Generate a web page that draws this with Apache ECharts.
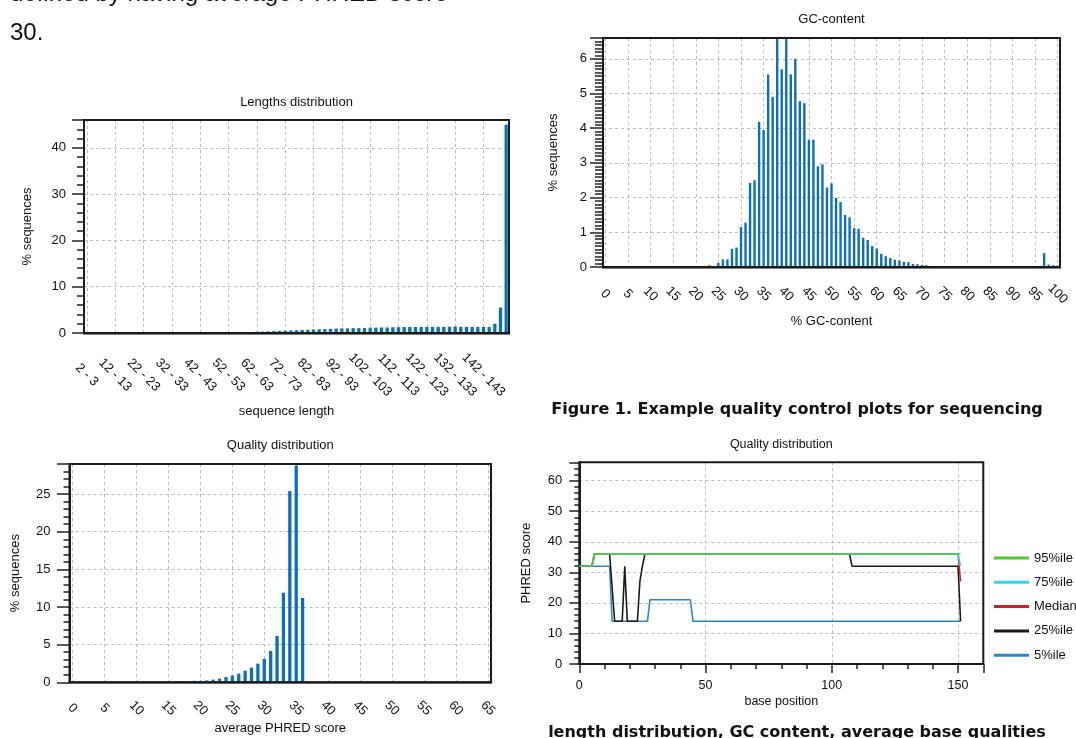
<!DOCTYPE html>
<html>
<head>
<meta charset="utf-8">
<title>Quality control plots</title>
<script src="https://cdn.jsdelivr.net/npm/echarts@6/dist/echarts.min.js"></script>
<style>
  html, body { margin: 0; padding: 0; background: #fff; }
  #main { width: 1076px; height: 738px; }
</style>
</head>
<body>
<div id="main"></div>
<script>
// ---- data ----

// Lengths distribution: bins of two, 2 - 3 ... 150 - 151
var lengthBinStarts = [];
for (var b = 2; b <= 150; b += 2) lengthBinStarts.push(b);
var lengthCategories = lengthBinStarts.map(function (s) { return s + ' - ' + (s + 1); });
var lengthValues = [
  0, 0, 0, 0, 0, 0, 0, 0, 0, 0,
  0, 0, 0, 0, 0, 0, 0, 0, 0, 0,
  0, 0, 0, 0, 0, 0, 0, 0,
  0.2, 0.2, 0.28, 0.3, 0.35, 0.4, 0.45, 0.5, 0.55, 0.6,
  0.65, 0.7, 0.75, 0.8, 0.85, 0.9, 0.95, 1.0, 1.0, 1.05,
  1.05, 1.1, 1.15, 1.15, 1.2, 1.2, 1.25, 1.25, 1.3, 1.3,
  1.3, 1.32, 1.32, 1.33, 1.33, 1.33, 1.35, 1.4, 1.33, 1.33,
  1.33, 1.33, 1.3, 1.3,
  2.0, 5.5, 45
];

// GC-content: one bar per percent, 0 ... 100
var gcCategories = [];
for (var g = 0; g <= 100; g++) gcCategories.push(String(g));
var gcValues = [
  0, 0, 0, 0, 0, 0, 0, 0, 0, 0, 0,
  0, 0, 0, 0, 0, 0, 0, 0, 0, 0,
  0.03, 0.03, 0.05, 0.03, 0.12, 0.22, 0.22, 0.52, 0.56, 1.15,
  1.28, 2.42, 2.5, 4.18, 3.95, 5.55, 4.9, 6.6, 5.7, 6.6,
  5.55, 6.0, 4.78, 4.72, 3.67, 3.67, 2.9, 2.96, 2.29, 2.41,
  1.99, 1.87, 1.5, 1.43, 1.12, 1.1, 0.84, 0.78, 0.6, 0.53,
  0.38, 0.31, 0.26, 0.21, 0.19, 0.15, 0.14, 0.09, 0.08, 0.06,
  0.05, 0.03, 0.02, 0.01, 0.02, 0, 0, 0, 0, 0,
  0, 0, 0, 0, 0, 0, 0, 0, 0, 0,
  0, 0, 0.02, 0, 0.02, 0.03, 0.4, 0.07, 0.05, 0.04
];

// Quality distribution: average PHRED score 0 ... 65
var phredCategories = [];
for (var q = 0; q <= 65; q++) phredCategories.push(String(q));
var phredValues = [
  0, 0, 0, 0, 0, 0, 0, 0, 0, 0, 0, 0, 0, 0, 0, 0,
  0.15, 0.15, 0.15, 0.2, 0.2, 0.25, 0.35, 0.5, 0.7, 0.9,
  1.15, 1.55, 1.95, 2.48, 3.1, 4.17, 6.16, 11.9, 25.4, 28.8, 11.2,
  0, 0, 0, 0, 0, 0, 0, 0, 0, 0,
  0, 0, 0, 0, 0, 0, 0, 0, 0, 0,
  0, 0, 0, 0, 0, 0, 0, 0, 0
];

// Per-base quality: [base position, PHRED score] break points
var p95 = [[0, 32], [5, 32], [6, 36], [151, 36]];
var p75 = [[0, 32], [5, 32], [6, 36], [150, 36], [151, 32]];
var pMedian = [[0, 32], [5, 32], [6, 36], [150, 36], [151, 27]];
var p25 = [[0, 32], [5, 32], [6, 36], [12, 36], [14, 14], [17, 14], [18, 32], [19, 14],
           [23, 14], [24, 27], [25, 32], [26, 36], [107, 36], [108, 32], [150, 32], [151, 14]];
var p5 = [[0, 32], [12, 32], [13, 14], [27, 14], [28, 21], [44, 21], [45, 14], [151, 14]];

var legendNames = ['95%ile', '75%ile', 'Median', '25%ile', '5%ile'];

// ---- styling helpers ----
var FONT = '"Liberation Sans", Arial, sans-serif';
var CAPTION = 'bold 16px "DejaVu Sans", sans-serif';
var INK = '#111';
var BAR = '#0e6eb8';
var gridDash = { color: '#bdbdbd', type: [3, 3], width: 1 };

function frame(left, top, width, height) {
  // border drawn above the dashed grid lines
  return {
    left: left, top: top, width: width, height: height, z: 3,
    show: true, borderColor: '#1a1a1a', borderWidth: 2,
    outerBoundsMode: 'none', containLabel: false
  };
}

function catAxis(idx, data, name, margin, nameGap, namePad) {
  return {
    type: 'category', gridIndex: idx, data: data, boundaryGap: true,
    axisLine: { lineStyle: { color: '#555', width: 2.5 } },
    axisTick: { show: false },
    axisLabel: {
      interval: 4, rotate: -45, align: 'center', verticalAlign: 'middle',
      margin: margin, fontSize: 13, color: INK, fontFamily: FONT, hideOverlap: false
    },
    splitLine: { show: true, interval: 4, alignWithLabel: true, lineStyle: gridDash },
    name: name, nameLocation: 'middle', nameGap: nameGap,
    nameTextStyle: { fontSize: 13, color: INK, fontFamily: FONT, padding: namePad || 0 }
  };
}

function valAxis(idx, max, interval, minorSplit, tickLen, minorLen, margin, name, nameGap) {
  return {
    type: 'value', gridIndex: idx, min: 0, max: max, interval: interval,
    axisLine: { show: true, lineStyle: { color: '#222', width: 2 } },
    axisTick: { show: true, length: tickLen, lineStyle: { color: '#222', width: 1.5 } },
    minorTick: { show: true, splitNumber: minorSplit, length: minorLen, lineStyle: { color: '#222', width: 1.5 } },
    axisLabel: { margin: margin, fontSize: 13, color: INK, fontFamily: FONT, showMaxLabel: false },
    splitLine: { show: true, showMaxLine: false, lineStyle: gridDash },
    minorSplitLine: { show: false },
    name: name, nameLocation: 'middle', nameGap: nameGap,
    nameTextStyle: { fontSize: 13, color: INK, fontFamily: FONT }
  };
}

function label(x, y, text, font, align) {
  return {
    type: 'text', x: x, y: y, silent: true,
    style: { text: text, font: font, fill: INK, align: align || 'center', verticalAlign: 'middle' }
  };
}

var chart = echarts.init(document.getElementById('main'), null, { renderer: 'canvas' });

var lineColors = { '95%ile': '#5cc43c', '75%ile': '#35d3ef', 'Median': '#c4252b', '25%ile': '#1a1a1a', '5%ile': '#3284c6' };

function qLine(name, data) {
  return {
    name: name, type: 'line', xAxisIndex: 3, yAxisIndex: 3, data: data,
    showSymbol: false, symbol: 'none', smooth: false,
    lineStyle: { width: 1.6, color: lineColors[name] },
    itemStyle: { color: lineColors[name] }
  };
}

var option = {
  animation: false,
  backgroundColor: '#fff',
  textStyle: { fontFamily: FONT },
  grid: [
    frame(84, 120, 425, 213),
    frame(603, 38, 457, 229),
    frame(69.5, 464, 421.5, 218.3),
    frame(579.3, 462.3, 404, 201.7)
  ],
  xAxis: [
    catAxis(0, lengthCategories, 'sequence length', 42, 72, [0, 20, 0, 0]),
    catAxis(1, gcCategories, '% GC-content', 27, 48),
    catAxis(2, phredCategories, 'average PHRED score', 26, 40),
    {
      type: 'value', gridIndex: 3, min: 0, max: 160, interval: 50,
      axisLine: { show: true, lineStyle: { color: '#222', width: 2 } },
      axisTick: { show: true, length: 9, lineStyle: { color: '#222', width: 1.5 } },
      minorTick: { show: true, splitNumber: 5, length: 5, lineStyle: { color: '#222', width: 1.5 } },
      axisLabel: { margin: 15, fontSize: 12.5, color: INK, fontFamily: FONT, showMaxLabel: false },
      splitLine: { show: true, showMinLine: false, showMaxLine: false, lineStyle: gridDash },
      name: 'base position', nameLocation: 'middle', nameGap: 31,
      nameTextStyle: { fontSize: 12.5, color: INK, fontFamily: FONT }
    }
  ],
  yAxis: [
    valAxis(0, 46, 10, 5, 12, 7, 18, '% sequences', 50),
    valAxis(1, 6.6, 1, 10, 13, 8, 16, '% sequences', 43),
    valAxis(2, 29, 5, 5, 12.5, 6, 19, '% sequences', 48),
    valAxis(3, 66, 10, 5, 10, 5, 17, 'PHRED score', 46)
  ],
  legend: {
    orient: 'vertical', left: 989, top: 545,
    icon: 'rect', itemWidth: 35, itemHeight: 3, itemGap: 8.3,
    selectedMode: false,
    data: legendNames,
    textStyle: { fontSize: 13, color: INK, fontFamily: FONT, lineHeight: 16 }
  },
  series: [
    { type: 'bar', xAxisIndex: 0, yAxisIndex: 0, data: lengthValues, barWidth: 3.3, itemStyle: { color: BAR } },
    { type: 'bar', xAxisIndex: 1, yAxisIndex: 1, data: gcValues, barWidth: 2.4, itemStyle: { color: BAR } },
    { type: 'bar', xAxisIndex: 2, yAxisIndex: 2, data: phredValues, barWidth: 3.3, itemStyle: { color: BAR } },
    qLine('5%ile', p5),
    qLine('25%ile', p25),
    qLine('Median', pMedian),
    qLine('75%ile', p75),
    qLine('95%ile', p95)
  ],
  graphic: [
    label(10, -6, 'defined by having average PHRED score', '24px ' + FONT, 'left'),
    label(10, 33.3, '30.', '24px ' + FONT, 'left'),
    label(296.5, 102, 'Lengths distribution', '13px ' + FONT),
    label(831.5, 19.5, 'GC-content', '13px ' + FONT),
    label(280.3, 445.5, 'Quality distribution', '13px ' + FONT),
    label(781.3, 445, 'Quality distribution', '12.5px ' + FONT),
    label(797, 410, 'Figure 1. Example quality control plots for sequencing', CAPTION),
    label(797, 733, 'length distribution, GC content, average base qualities', CAPTION)
  ]
};

chart.setOption(option);
</script>
</body>
</html>
